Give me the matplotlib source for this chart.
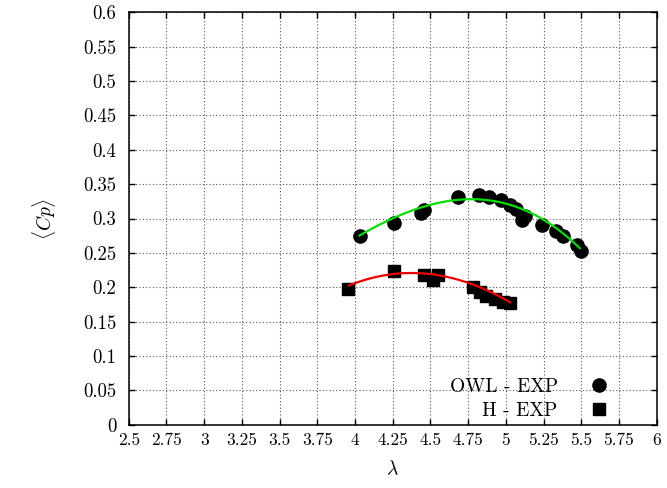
import numpy as np
import matplotlib
matplotlib.use('Agg')
import matplotlib.pyplot as plt

# OWL - EXP data (circles)
owl_tsr = [4.03, 4.26, 4.44, 4.46, 4.68, 4.82, 4.89, 4.97, 5.03, 5.07, 5.13, 5.11,
           5.24, 5.33, 5.38, 5.47, 5.50]
owl_cp = [0.274, 0.293, 0.308, 0.313, 0.332, 0.334, 0.331, 0.327, 0.320, 0.314, 0.303, 0.298,
          0.291, 0.282, 0.274, 0.262, 0.252]

# H - EXP data (squares)
h_tsr = [3.955, 4.26, 4.46, 4.55, 4.52, 4.78, 4.83, 4.87, 4.93, 4.98, 5.025]
h_cp = [0.198, 0.224, 0.218, 0.218, 0.211, 0.200, 0.193, 0.187, 0.183, 0.179, 0.177]

# fitted curves
owl_fit_x = [4.03, 4.25, 4.50, 4.63, 4.76, 4.87, 4.98, 5.12, 5.25, 5.38, 5.49]
owl_fit_y = [0.277, 0.298, 0.316, 0.326, 0.331, 0.331, 0.326, 0.310, 0.293, 0.276, 0.261]
h_fit_x = [3.96, 4.12, 4.25, 4.39, 4.52, 4.65, 4.78, 4.92, 5.03]
h_fit_y = [0.203, 0.213, 0.219, 0.221, 0.2195, 0.213, 0.203, 0.191, 0.178]

xticks = [2.5, 2.75, 3, 3.25, 3.5, 3.75, 4, 4.25, 4.5, 4.75, 5, 5.25, 5.5, 5.75, 6]
yticks = [0, 0.05, 0.1, 0.15, 0.2, 0.25, 0.3, 0.35, 0.4, 0.45, 0.5, 0.55, 0.6]

plt.rcParams['font.family'] = 'serif'
plt.rcParams['font.serif'] = ['cmr10']
plt.rcParams['mathtext.fontset'] = 'cm'
plt.rcParams['axes.formatter.use_mathtext'] = True

fig = plt.figure(figsize=(6.67, 4.88), dpi=100)
ax = fig.add_axes([0.193, 0.1297, 0.7915, 0.8451])

# smooth the fitted curves
c = np.polyfit(owl_fit_x, owl_fit_y, 3)
xs = np.linspace(owl_fit_x[0], owl_fit_x[-1], 200)
ax.plot(xs, np.polyval(c, xs), color='#00e000', lw=1.6, zorder=3)

c = np.polyfit(h_fit_x, h_fit_y, 3)
xs = np.linspace(h_fit_x[0], h_fit_x[-1], 200)
ax.plot(xs, np.polyval(c, xs), color='#ee0000', lw=1.6, zorder=3)

ax.plot(owl_tsr, owl_cp, 'o', color='black', ms=9.5, label='OWL - EXP', zorder=2)
ax.plot(h_tsr, h_cp, 's', color='black', ms=9, label='H - EXP', zorder=2)

ax.set_xlim(2.5, 6)
ax.set_ylim(0, 0.6)
ax.set_xticks(xticks)
ax.set_yticks(yticks)
ax.set_xticklabels([f'{v:g}' for v in xticks])
ax.set_yticklabels([f'{v:g}' for v in yticks])
ax.tick_params(direction='in', length=4, width=1, top=True, right=True)
ax.tick_params(axis='x', pad=6, labelsize=12.5)
ax.tick_params(axis='y', pad=9, labelsize=13.5)
ax.grid(True, linestyle=(0, (1, 2)), color='#555555', lw=0.8)
for s in ax.spines.values():
    s.set_linewidth(1.1)

ax.set_xlabel(r'$\lambda$', fontsize=14, labelpad=8)
ax.set_ylabel(r'$\langle Cp\rangle$', fontsize=14, labelpad=18)

ax.legend(loc='lower right', frameon=False, markerfirst=False, fontsize=14,
          handlelength=1.5, handletextpad=1.4, labelspacing=0.3,
          borderaxespad=0, bbox_to_anchor=(0.934, -0.007))

fig.savefig('out.png', dpi=100)
